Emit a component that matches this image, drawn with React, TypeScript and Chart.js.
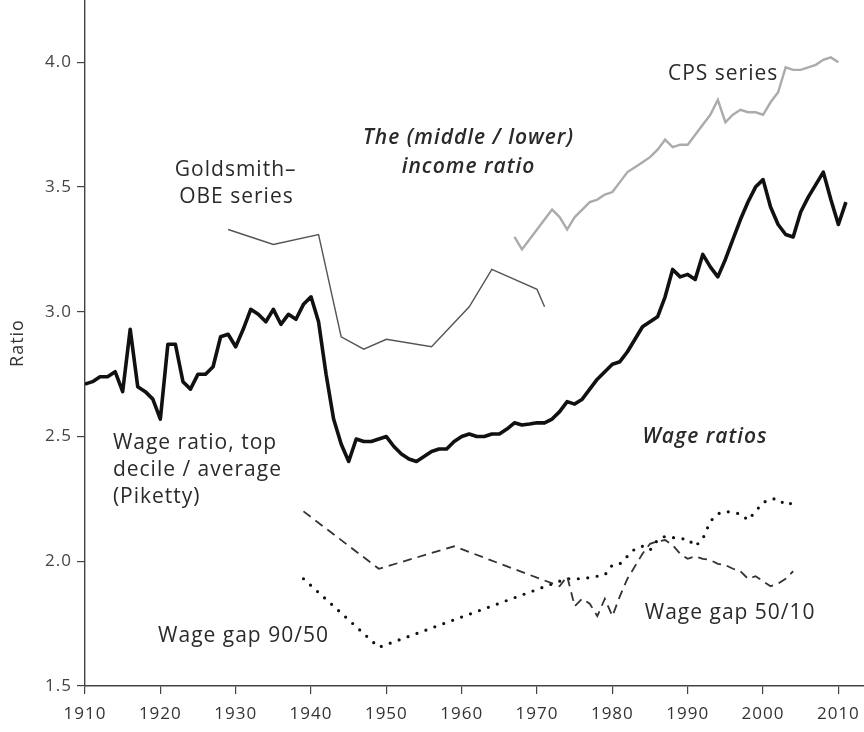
import React, { useEffect, useRef } from "react";
import { Chart, registerables } from "chart.js";

Chart.register(...registerables);

// ---- Data ----
const pikettyYears = [
  1910, 1911, 1912, 1913, 1914, 1915, 1916, 1917, 1918, 1919,
  1920, 1921, 1922, 1923, 1924, 1925, 1926, 1927, 1928, 1929,
  1930, 1931, 1932, 1933, 1934, 1935, 1936, 1937, 1938, 1939,
  1940, 1941, 1942, 1943, 1944, 1945, 1946, 1947, 1948, 1949,
  1950, 1951, 1952, 1953, 1954, 1955, 1956, 1957, 1958, 1959,
  1960, 1961, 1962, 1963, 1964, 1965, 1966, 1967, 1968, 1969,
  1970, 1971, 1972, 1973, 1974, 1975, 1976, 1977, 1978, 1979,
  1980, 1981, 1982, 1983, 1984, 1985, 1986, 1987, 1988, 1989,
  1990, 1991, 1992, 1993, 1994, 1995, 1996, 1997, 1998, 1999,
  2000, 2001, 2002, 2003, 2004, 2005, 2006, 2007, 2008, 2009,
  2010, 2011,
];
const pikettyValues = [
  2.71, 2.72, 2.74, 2.74, 2.76, 2.68, 2.93, 2.70, 2.68, 2.65,
  2.57, 2.87, 2.87, 2.72, 2.69, 2.75, 2.75, 2.78, 2.90, 2.91,
  2.86, 2.93, 3.01, 2.99, 2.96, 3.01, 2.95, 2.99, 2.97, 3.03,
  3.06, 2.96, 2.75, 2.57, 2.47, 2.40, 2.49, 2.48, 2.48, 2.49,
  2.50, 2.46, 2.43, 2.41, 2.40, 2.42, 2.44, 2.45, 2.45, 2.48,
  2.50, 2.51, 2.50, 2.50, 2.51, 2.51, 2.53, 2.555, 2.546, 2.55,
  2.555, 2.555, 2.57, 2.60, 2.64, 2.63, 2.65, 2.69, 2.73, 2.76,
  2.79, 2.80, 2.84, 2.89, 2.94, 2.96, 2.98, 3.06, 3.17, 3.14,
  3.15, 3.13, 3.23, 3.18, 3.14, 3.21, 3.29, 3.37, 3.44, 3.50,
  3.53, 3.42, 3.35, 3.31, 3.30, 3.40, 3.46, 3.51, 3.56, 3.45,
  3.35, 3.44,
];

const goldsmithYears = [1929, 1935, 1941, 1944, 1947, 1950, 1956, 1961, 1964, 1970, 1971];
const goldsmithValues = [3.33, 3.27, 3.31, 2.90, 2.85, 2.89, 2.86, 3.02, 3.17, 3.09, 3.02];

const cpsYears = [
  1967, 1968, 1969, 1970, 1971, 1972, 1973, 1974, 1975, 1976,
  1977, 1978, 1979, 1980, 1981, 1982, 1983, 1984, 1985, 1986,
  1987, 1988, 1989, 1990, 1991, 1992, 1993, 1994, 1995, 1996,
  1997, 1998, 1999, 2000, 2001, 2002, 2003, 2004, 2005, 2006,
  2007, 2008, 2009, 2010,
];
const cpsValues = [
  3.30, 3.25, 3.29, 3.33, 3.37, 3.41, 3.38, 3.33, 3.38, 3.41,
  3.44, 3.45, 3.47, 3.48, 3.52, 3.56, 3.58, 3.60, 3.62, 3.65,
  3.69, 3.66, 3.67, 3.67, 3.71, 3.75, 3.79, 3.85, 3.76, 3.79,
  3.81, 3.80, 3.80, 3.79, 3.84, 3.88, 3.98, 3.97, 3.97, 3.98,
  3.99, 4.01, 4.02, 4.00,
];

const gap5010Years = [
  1939, 1949, 1959, 1973, 1974, 1975, 1976, 1977, 1978, 1979,
  1980, 1981, 1982, 1983, 1984, 1985, 1986, 1987, 1988, 1989,
  1990, 1991, 1992, 1993, 1994, 1995, 1996, 1997, 1998, 1999,
  2000, 2001, 2002, 2003, 2004,
];
const gap5010Values = [
  2.20, 1.97, 2.06, 1.90, 1.94, 1.82, 1.85, 1.83, 1.78, 1.85,
  1.78, 1.86, 1.93, 1.98, 2.03, 2.07, 2.08, 2.085, 2.065, 2.03,
  2.01, 2.02, 2.01, 2.005, 1.99, 1.985, 1.97, 1.96, 1.93, 1.94,
  1.92, 1.90, 1.91, 1.93, 1.96,
];

const gap9050Years = [
  1939, 1949, 1973, 1974, 1975, 1976, 1977, 1978, 1979, 1980,
  1981, 1982, 1983, 1984, 1985, 1986, 1987, 1988, 1989, 1990,
  1991, 1992, 1993, 1994, 1995, 1996, 1997, 1998, 1999, 2000,
  2001, 2002, 2003, 2004,
];
const gap9050Values = [
  1.93, 1.655, 1.92, 1.93, 1.93, 1.93, 1.935, 1.94, 1.945, 1.985,
  1.99, 2.02, 2.05, 2.06, 2.045, 2.085, 2.10, 2.095, 2.09, 2.09,
  2.06, 2.09, 2.16, 2.19, 2.20, 2.195, 2.19, 2.165, 2.20, 2.235,
  2.25, 2.25, 2.225, 2.235,
];

const xTickValues = [1910, 1920, 1930, 1940, 1950, 1960, 1970, 1980, 1990, 2000, 2010];
const yTickValues = [1.5, 2.0, 2.5, 3.0, 3.5, 4.0];

const labelTexts = [
  "Goldsmith\u2013", "OBE series",
  "The (middle / lower)", "income ratio",
  "CPS series",
  "Wage ratio, top", "decile / average", "(Piketty)",
  "Wage ratios",
  "Wage gap 90/50", "Wage gap 50/10",
];
const labelYears = [1930.0, 1930.1, 1960.9, 1960.9, 1994.7, 1913.7, 1913.7, 1913.7, 1992.3, 1919.7, 1984.3];
const labelValues = [3.567, 3.459, 3.695, 3.579, 3.952, 2.474, 2.365, 2.257, 2.498, 1.70, 1.792];
const labelAligns = ["center", "center", "center", "center", "center", "left", "left", "left", "center", "left", "left"];
const labelBoldItalic = [false, false, true, true, false, false, false, false, true, false, false];

const FONT = "'Open Sans', 'Noto Sans', sans-serif";

const toPoints = (xs: number[], ys: number[]) => xs.map((x, i) => ({ x, y: ys[i] }));

const spacingPlugin = {
  id: "letterSpacing",
  beforeDraw(chart: any) {
    (chart.ctx as any).letterSpacing = "1px";
  },
};

const textPlugin = {
  id: "textLabels",
  afterDatasetsDraw(chart: any) {
    const { ctx, scales } = chart;
    ctx.save();
    (ctx as any).letterSpacing = "1px";
    ctx.fillStyle = "#2a2a2a";
    ctx.textBaseline = "middle";
    labelTexts.forEach((t, i) => {
      const px = scales.x.getPixelForValue(labelYears[i]);
      const py = scales.y.getPixelForValue(labelValues[i]);
      ctx.font = labelBoldItalic[i]
        ? `italic 600 21px ${FONT}`
        : `21px ${FONT}`;
      ctx.textAlign = labelAligns[i] as CanvasTextAlign;
      ctx.fillText(t, px, py);
    });
    ctx.restore();
  },
};

export default function App() {
  const canvasRef = useRef<HTMLCanvasElement | null>(null);

  useEffect(() => {
    document.body.style.margin = "0";
    const canvas = canvasRef.current;
    if (!canvas) return;
    const chart = new Chart(canvas, {
      type: "line",
      data: {
        datasets: [
          {
            label: "CPS series",
            data: toPoints(cpsYears, cpsValues),
            borderColor: "#ababab",
            borderWidth: 2.4,
            pointRadius: 0,
            tension: 0,
          },
          {
            label: "Goldsmith-OBE series",
            data: toPoints(goldsmithYears, goldsmithValues),
            borderColor: "#555555",
            borderWidth: 1.4,
            pointRadius: 0,
            tension: 0,
          },
          {
            label: "Wage ratio, top decile / average (Piketty)",
            data: toPoints(pikettyYears, pikettyValues),
            borderColor: "#111111",
            borderWidth: 3.6,
            pointRadius: 0,
            tension: 0,
            borderJoinStyle: "round",
          },
          {
            label: "Wage gap 50/10",
            data: toPoints(gap5010Years, gap5010Values),
            borderColor: "#333333",
            borderWidth: 1.8,
            borderDash: [9, 6],
            pointRadius: 0,
            tension: 0,
          },
          {
            label: "Wage gap 90/50",
            data: toPoints(gap9050Years, gap9050Values),
            borderColor: "#111111",
            borderWidth: 3.2,
            borderDash: [0, 9.5],
            borderCapStyle: "round",
            pointRadius: 0,
            tension: 0,
          },
        ],
      },
      options: {
        animation: false,
        responsive: false,
        devicePixelRatio: 1,
        layout: { padding: 0 },
        plugins: {
          legend: { display: false },
          tooltip: { enabled: false },
        },
        scales: {
          x: {
            type: "linear",
            min: 1910,
            max: 2013.4,
            afterBuildTicks: (scale: any) => {
              scale.ticks = xTickValues.map((v) => ({ value: v }));
            },
            afterFit: (scale: any) => {
              scale.height = 46;
              scale.paddingLeft = 0;
              scale.paddingRight = 0;
            },
            ticks: {
              callback: (v: any) => String(v),
              color: "#333",
              font: { family: FONT, size: 17 },
              padding: 10,
              maxRotation: 0,
              autoSkip: false,
            },
            grid: {
              drawOnChartArea: false,
              drawTicks: true,
              tickLength: 8,
              color: "#444",
              lineWidth: 1.2,
            },
            border: { display: true, color: "#444", width: 1.6 },
          },
          y: {
            type: "linear",
            min: 1.5,
            max: 4.25,
            afterBuildTicks: (scale: any) => {
              scale.ticks = yTickValues.map((v) => ({ value: v }));
            },
            afterFit: (scale: any) => {
              scale.width = 85;
              scale.paddingTop = 0;
              scale.paddingBottom = 0;
            },
            ticks: {
              callback: (v: any) => Number(v).toFixed(1),
              color: "#444",
              font: { family: FONT, size: 17 },
              padding: 5,
            },
            grid: {
              drawOnChartArea: false,
              drawTicks: true,
              tickLength: 8,
              color: "#444",
              lineWidth: 1.2,
            },
            border: { display: true, color: "#444", width: 1.4 },
            title: {
              display: true,
              text: "Ratio",
              color: "#333",
              font: { family: FONT, size: 18 },
              padding: { top: 7, bottom: 0 },
            },
          },
        },
      },
      plugins: [spacingPlugin, textPlugin],
    });
    return () => chart.destroy();
  }, []);

  return (
    <div style={{ width: 864, height: 732, background: "#fff" }}>
      <canvas ref={canvasRef} width={864} height={732} style={{ display: "block" }} />
    </div>
  );
}
